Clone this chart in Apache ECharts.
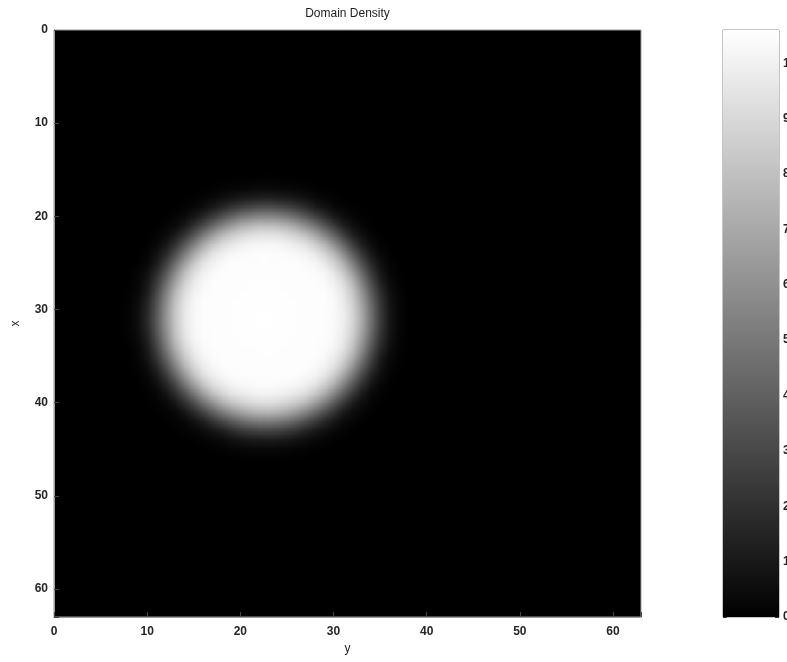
<!DOCTYPE html>
<html>
<head>
<meta charset="utf-8">
<title>Domain Density</title>
<script src="https://cdn.jsdelivr.net/npm/echarts@6/dist/echarts.min.js"></script>
<style>
  html, body { margin: 0; padding: 0; background: #ffffff; }
  #stage { position: relative; width: 787px; height: 662px; overflow: hidden; background: #ffffff; }
  /* density image: rendered at one canvas pixel per grid node, then scaled up
     by the browser so neighbouring nodes blend smoothly */
  #fieldClip { position: absolute; overflow: hidden; background: #000000; }
  #field { position: absolute; left: 0; top: 0; transform-origin: 0 0; }
  #frame { position: absolute; left: 0; top: 0; width: 787px; height: 662px; }
</style>
</head>
<body>
<div id="stage">
  <div id="fieldClip"><div id="field"></div></div>
  <div id="frame"></div>
</div>
<script>
// ---- data -------------------------------------------------------------
// grid nodes along both directions (x = rows, y = columns)
const gridNodes = Array.from({ length: 64 }, (_, i) => i);
// centre of the dense domain, [x (row), y (column)]
const discCentre = [30.9, 22.7];
// radial density profile of the domain: distance from centre -> density
const profileRadius  = [0,    7,    8,    9,   10,  11,  12,  13,  14,   15,   16];
const profileDensity = [10.6, 10.5, 10.2, 9.4, 7.8, 5.4, 3.0, 1.2, 0.35, 0.08, 0];
// colour limits and tick labels
const densityMin = 0;
const densityMax = 10.6;
const axisTicks = [0, 10, 20, 30, 40, 50, 60];
const colorbarTicks = [0, 1, 2, 3, 4, 5, 6, 7, 8, 9, 10];

// ---- layout -----------------------------------------------------------
const plot = { left: 54, top: 30, size: 587 };
const nodeStep = plot.size / (gridNodes.length - 1);   // px between nodes
const K = 32;                                          // layout px per node in the field chart

function densityAt(r) {
  if (r <= profileRadius[0]) return profileDensity[0];
  for (let i = 1; i < profileRadius.length; i++) {
    if (r <= profileRadius[i]) {
      const t = (r - profileRadius[i - 1]) / (profileRadius[i] - profileRadius[i - 1]);
      return profileDensity[i - 1] + t * (profileDensity[i] - profileDensity[i - 1]);
    }
  }
  return profileDensity[profileDensity.length - 1];
}

const cells = [];
gridNodes.forEach(function (row) {
  gridNodes.forEach(function (col) {
    const r = Math.hypot(row - discCentre[0], col - discCentre[1]);
    cells.push([col, row, +densityAt(r).toFixed(3)]);
  });
});

// ---- density field ----------------------------------------------------
const clip = document.getElementById('fieldClip');
clip.style.left = plot.left + 'px';
clip.style.top = plot.top + 'px';
clip.style.width = plot.size + 'px';
clip.style.height = plot.size + 'px';

const fieldDom = document.getElementById('field');
const fieldPx = K * gridNodes.length;
fieldDom.style.width = fieldPx + 'px';
fieldDom.style.height = fieldPx + 'px';
fieldDom.style.transform =
  'translate(' + (-nodeStep / 2) + 'px,' + (-nodeStep / 2) + 'px) scale(' + (nodeStep / K) + ')';

const field = echarts.init(fieldDom, null, { renderer: 'canvas', devicePixelRatio: 1 / K });
field.setOption({
  animation: false,
  backgroundColor: '#000000',
  grid: { left: 0, top: 0, right: 0, bottom: 0, outerBoundsMode: 'none' },
  xAxis: { type: 'category', data: gridNodes, show: false },
  yAxis: { type: 'category', data: gridNodes, inverse: true, show: false },
  visualMap: {
    show: false, min: densityMin, max: densityMax, dimension: 2,
    inRange: { color: ['#000000', '#ffffff'] }
  },
  series: [{
    type: 'heatmap', data: cells, progressive: 0, silent: true,
    emphasis: { disabled: true }
  }]
});

// ---- axes, title and colorbar -----------------------------------------
const tickText = { color: '#262626', fontSize: 12, fontWeight: 'bold', fontFamily: 'Liberation Sans, Arial, sans-serif' };
const frameColor = '#9a9a9a';
const onlyTicks = function (list) {
  return function (v) { return list.indexOf(v) >= 0 ? String(v) : ''; };
};

const frame = echarts.init(document.getElementById('frame'), null, { renderer: 'canvas' });
frame.setOption({
  animation: false,
  backgroundColor: 'transparent',
  textStyle: { fontFamily: 'Liberation Sans, Arial, sans-serif' },
  graphic: [{
    type: 'text', x: plot.left + plot.size / 2, y: 14,
    style: { text: 'Domain Density', textAlign: 'center', textVerticalAlign: 'middle',
             fill: '#1e1e1e', fontSize: 12, fontFamily: 'Liberation Sans, Arial, sans-serif' }
  }],
  grid: [
    { left: plot.left, top: plot.top, width: plot.size, height: plot.size, outerBoundsMode: 'none',
      show: true, borderColor: frameColor, borderWidth: 1, backgroundColor: 'transparent' },
    { left: 723, top: plot.top, width: 56, height: plot.size, outerBoundsMode: 'none',
      show: true, borderColor: '#8a8a8a', borderWidth: 1, backgroundColor: 'transparent' }
  ],
  xAxis: [
    { gridIndex: 0, type: 'value', min: 0, max: gridNodes.length - 1, interval: 10,
      name: 'y', nameLocation: 'middle', nameGap: 26,
      nameTextStyle: { color: '#1e1e1e', fontSize: 12 },
      axisLine: { show: true, onZero: false, lineStyle: { color: frameColor } },
      axisTick: { show: true, inside: true, length: 5, lineStyle: { color: '#444' } },
      axisLabel: Object.assign({ margin: 9, formatter: onlyTicks(axisTicks) }, tickText),
      splitLine: { show: false } },
    { gridIndex: 1, type: 'category', data: ['density'], show: false }
  ],
  yAxis: [
    { gridIndex: 0, type: 'value', min: 0, max: gridNodes.length - 1, interval: 10, inverse: true,
      name: 'x', nameLocation: 'middle', nameGap: 32, nameRotate: 90,
      nameTextStyle: { color: '#1e1e1e', fontSize: 12 },
      axisLine: { show: true, onZero: false, lineStyle: { color: frameColor } },
      axisTick: { show: true, inside: true, length: 5, lineStyle: { color: '#444' } },
      axisLabel: Object.assign({ margin: 6, formatter: onlyTicks(axisTicks) }, tickText),
      splitLine: { show: false } },
    { gridIndex: 1, type: 'value', min: densityMin, max: densityMax, interval: 1, position: 'right',
      axisLine: { show: false, onZero: false },
      axisTick: { show: true, inside: true, length: 4, lineStyle: { color: '#333' } },
      axisLabel: Object.assign({ margin: 4, formatter: onlyTicks(colorbarTicks) }, tickText),
      splitLine: { show: false } },
    { gridIndex: 1, type: 'value', min: densityMin, max: densityMax, interval: 1, position: 'left',
      axisLine: { show: false, onZero: false },
      axisTick: { show: true, inside: true, length: 4, lineStyle: { color: '#333' } },
      axisLabel: { show: false },
      splitLine: { show: false } }
  ],
  series: [{
    type: 'bar', xAxisIndex: 1, yAxisIndex: 1, data: [densityMax], barWidth: '100%', silent: true,
    itemStyle: {
      color: new echarts.graphic.LinearGradient(0, 0, 0, 1, [
        { offset: 0, color: '#ffffff' },
        { offset: 1, color: '#000000' }
      ])
    }
  }]
});
</script>
</body>
</html>
